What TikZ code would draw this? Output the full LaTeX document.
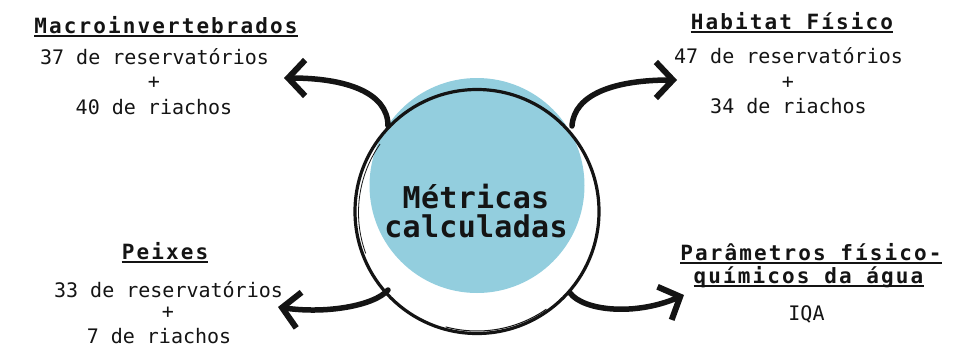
\documentclass[tikz,border=0pt]{standalone}
\usepackage{fontspec}
\usetikzlibrary{arrows.meta}
\newfontfamily\bodyfont{DejaVu Sans Mono}
\newfontfamily\hdrfont[LetterSpace=10]{DejaVu Sans Mono}
\newfontfamily\midfont[LetterSpace=1]{DejaVu Sans Mono}
\definecolor{disc}{RGB}{147,206,222}
\definecolor{ink}{RGB}{20,20,20}
\begin{document}
\begin{tikzpicture}[x=1pt,y=-1pt,
  body/.style={font=\bodyfont\fontsize{20}{20}\selectfont, inner sep=0pt, anchor=base, text=ink},
  hdr/.style={font=\hdrfont\bfseries\fontsize{21}{21}\selectfont, inner sep=0pt, anchor=base, text=ink},
  mid/.style={font=\midfont\bfseries\fontsize{30}{30}\selectfont, inner sep=0pt, anchor=base, text=ink},
  uline/.style={line width=1.5pt, ink},
  arr/.style={line width=5.5pt, ink, line cap=round, -{Straight Barb[length=17pt,width=36pt,line width=6pt]}},
  ring/.style={line width=3.2pt, ink}
]
\useasboundingbox (0,0) rectangle (954,348);
% disc and ring
\fill[disc] (477,185.5) circle (107.5);
\node[draw=none, circle, minimum size=244pt, inner sep=0pt] (ring) at (477,211.5) {};
\draw[ring] (ring.center) circle (122);
\draw[line width=1pt, ink] (477,210) ++(55:121) arc (55:105:121);
\draw[line width=0.8pt, ink] (478,212.5) ++(160:119.5) arc (160:215:119.5);
\draw[line width=0.8pt, ink] (476,211) ++(-20:123.5) arc (-20:20:123.5);
\node[mid] (m1) at (476,208) {Métricas};
\node[mid] (m2) at (476,237) {calculadas};
% Macroinvertebrados
\node[hdr] (h1) at (166,33) {Macroinvertebrados};
\draw[uline] ([yshift=-3pt]h1.base west) -- ([yshift=-3pt]h1.base east);
\node[body] (a1) at (154.5,64) {37 de reservatórios};
\node[body] (a2) at (154,88) {+};
\node[body] (a3) at (154,114) {40 de riachos};
% Habitat
\node[hdr] (h2) at (792,29) {Habitat Físico};
\draw[uline] ([yshift=-3pt]h2.base west) -- ([yshift=-3pt]h2.base east);
\node[body] (b1) at (788.5,63) {47 de reservatórios};
\node[body] (b2) at (788,88) {+};
\node[body] (b3) at (788.5,113) {34 de riachos};
% Peixes
\node[hdr] (h3) at (165,259) {Peixes};
\draw[uline] ([yshift=-3pt]h3.base west) -- ([yshift=-3pt]h3.base east);
\node[body] (c1) at (168.5,297) {33 de reservatórios};
\node[body] (c2) at (168,318) {+};
\node[body] (c3) at (159,343) {7 de riachos};
% Parametros
\node[hdr] (h4) at (811,260) {Parâmetros físico-};
\draw[uline] ([yshift=-3pt]h4.base west) -- ([yshift=-3pt]h4.base east);
\node[hdr] (h5) at (808.5,283) {químicos da água};
\draw[uline] ([yshift=-3pt]h5.base west) -- ([yshift=-3pt]h5.base east);
\node[body] (d1) at (806.5,320) {IQA};
% arrow end points
\coordinate (ul0) at (388,126); \coordinate (ul1) at (284,78);
\coordinate (ur0) at (572,126); \coordinate (ur1) at (677,80);
\coordinate (ll0) at (388,290); \coordinate (ll1) at (278,307);
\coordinate (lr0) at (570,293); \coordinate (lr1) at (684,295);
\draw[arr] (ul0) .. controls (388,92) and (345,78) .. (ul1);
\draw[arr] (ur0) .. controls (574,94) and (615,80) .. (ur1);
\draw[arr] (ll0) .. controls (374,306) and (325,314) .. (ll1);
\draw[arr] (lr0) .. controls (584,311) and (635,316) .. (lr1);
\end{tikzpicture}
\end{document}
